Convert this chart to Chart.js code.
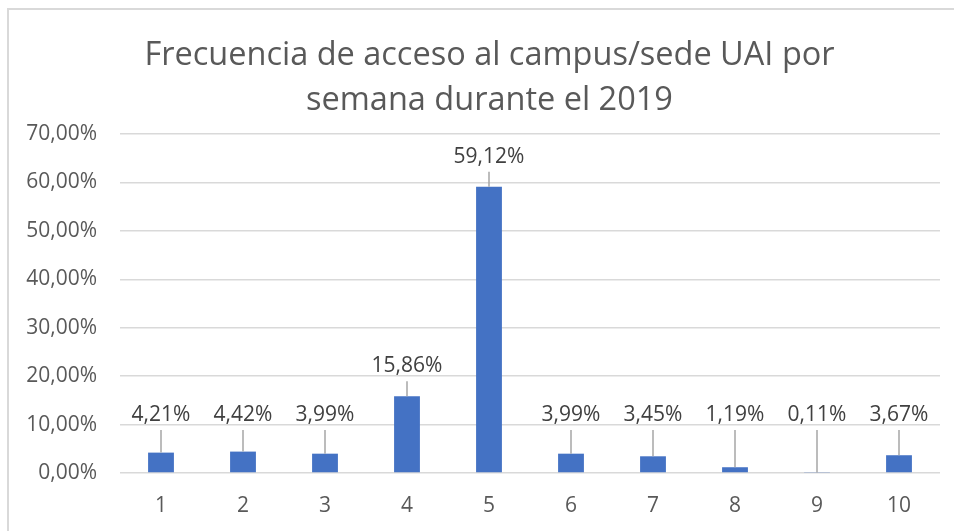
<!DOCTYPE html>
<html>
<head>
<meta charset="utf-8">
<style>
  html, body { margin: 0; padding: 0; background: #fff; }
  #wrap { width: 954px; height: 531px; }
</style>
<script src="https://cdn.jsdelivr.net/npm/chart.js@4.4.1/dist/chart.umd.min.js"></script>
</head>
<body>
<div id="wrap"><canvas id="canvas_freq" width="954" height="531"></canvas></div>
<script>
var semanas = ["1", "2", "3", "4", "5", "6", "7", "8", "9", "10"];
var porcentajes = [4.21, 4.42, 3.99, 15.86, 59.12, 3.99, 3.45, 1.19, 0.11, 3.67];
var ticksY = [0, 10, 20, 30, 40, 50, 60, 70];

var tituloLineas = ["Frecuencia de acceso al campus/sede UAI por", "semana durante el 2019"];

function fmt(v) {
  return Number(v).toFixed(2).replace('.', ',') + '%';
}

// frame around the chart, like the Excel chart area;
// also nudge the title so it sits centred like the original
var marco = {
  id: 'marco',
  afterLayout: function(chart) {
    if (chart.titleBlock) {
      chart.titleBlock.left = 39;
      chart.titleBlock.right = chart.chartArea.right;
    }
  },
  beforeDraw: function(chart) {
    var c = chart.ctx;
    c.save();
    c.strokeStyle = '#D9D9D9';
    c.lineWidth = 2;
    c.strokeRect(8, 9, 1000, 600);
    c.restore();
  }
};

// data labels with leader lines
var etiquetas = {
  id: 'etiquetas',
  afterDatasetsDraw: function(chart) {
    var c = chart.ctx;
    var y = chart.scales.y;
    var meta = chart.getDatasetMeta(0);
    var minY = y.getPixelForValue(12);
    c.save();
    c.font = '21px "Open Sans"';
    c.fillStyle = '#404040';
    c.textAlign = 'center';
    c.textBaseline = 'middle';
    meta.data.forEach(function(bar, i) {
      var top = bar.y;
      var ly = Math.min(top - 30, minY);
      c.fillText(fmt(porcentajes[i]), bar.x, ly);
      var l0 = ly + 15;
      if (top - l0 > 3) {
        c.strokeStyle = '#A6A6A6';
        c.lineWidth = 1.5;
        c.beginPath();
        c.moveTo(bar.x, l0);
        c.lineTo(bar.x, top);
        c.stroke();
      }
    });
    c.restore();
  }
};

var ctx = document.getElementById("canvas_freq");
var grafico = new Chart(ctx, {
  type: 'bar',
  data: {
    labels: semanas,
    datasets: [{
      data: porcentajes,
      backgroundColor: '#4472C4',
      borderWidth: 0,
      barPercentage: 0.315,
      categoryPercentage: 1
    }]
  },
  options: {
    responsive: false,
    animation: false,
    layout: { padding: { left: 0, right: 14, top: 0, bottom: 0 } },
    plugins: {
      legend: { display: false },
      tooltip: { enabled: false },
      title: {
        display: true,
        text: tituloLineas,
        color: '#595959',
        font: { family: '"Open Sans"', size: 32.5, weight: 'normal', lineHeight: 1.385 },
        padding: { top: 33, bottom: 11 }
      }
    },
    scales: {
      x: {
        grid: { display: false, drawTicks: false },
        border: { display: false },
        ticks: { color: '#595959', font: { family: '"Open Sans"', size: 21 }, padding: 20 },
        afterFit: function(s) { s.height = 58; }
      },
      y: {
        min: ticksY[0],
        max: ticksY[ticksY.length - 1],
        grid: { color: '#D9D9D9', lineWidth: 1.5, drawTicks: false },
        border: { display: false },
        ticks: {
          stepSize: ticksY[1] - ticksY[0],
          autoSkip: false,
          color: '#595959',
          font: { family: '"Open Sans"', size: 21 },
          padding: 23,
          callback: function(v) { return fmt(v); }
        },
        afterFit: function(s) { s.width = 120; }
      }
    }
  },
  plugins: [marco, etiquetas]
});
</script>
</body>
</html>
